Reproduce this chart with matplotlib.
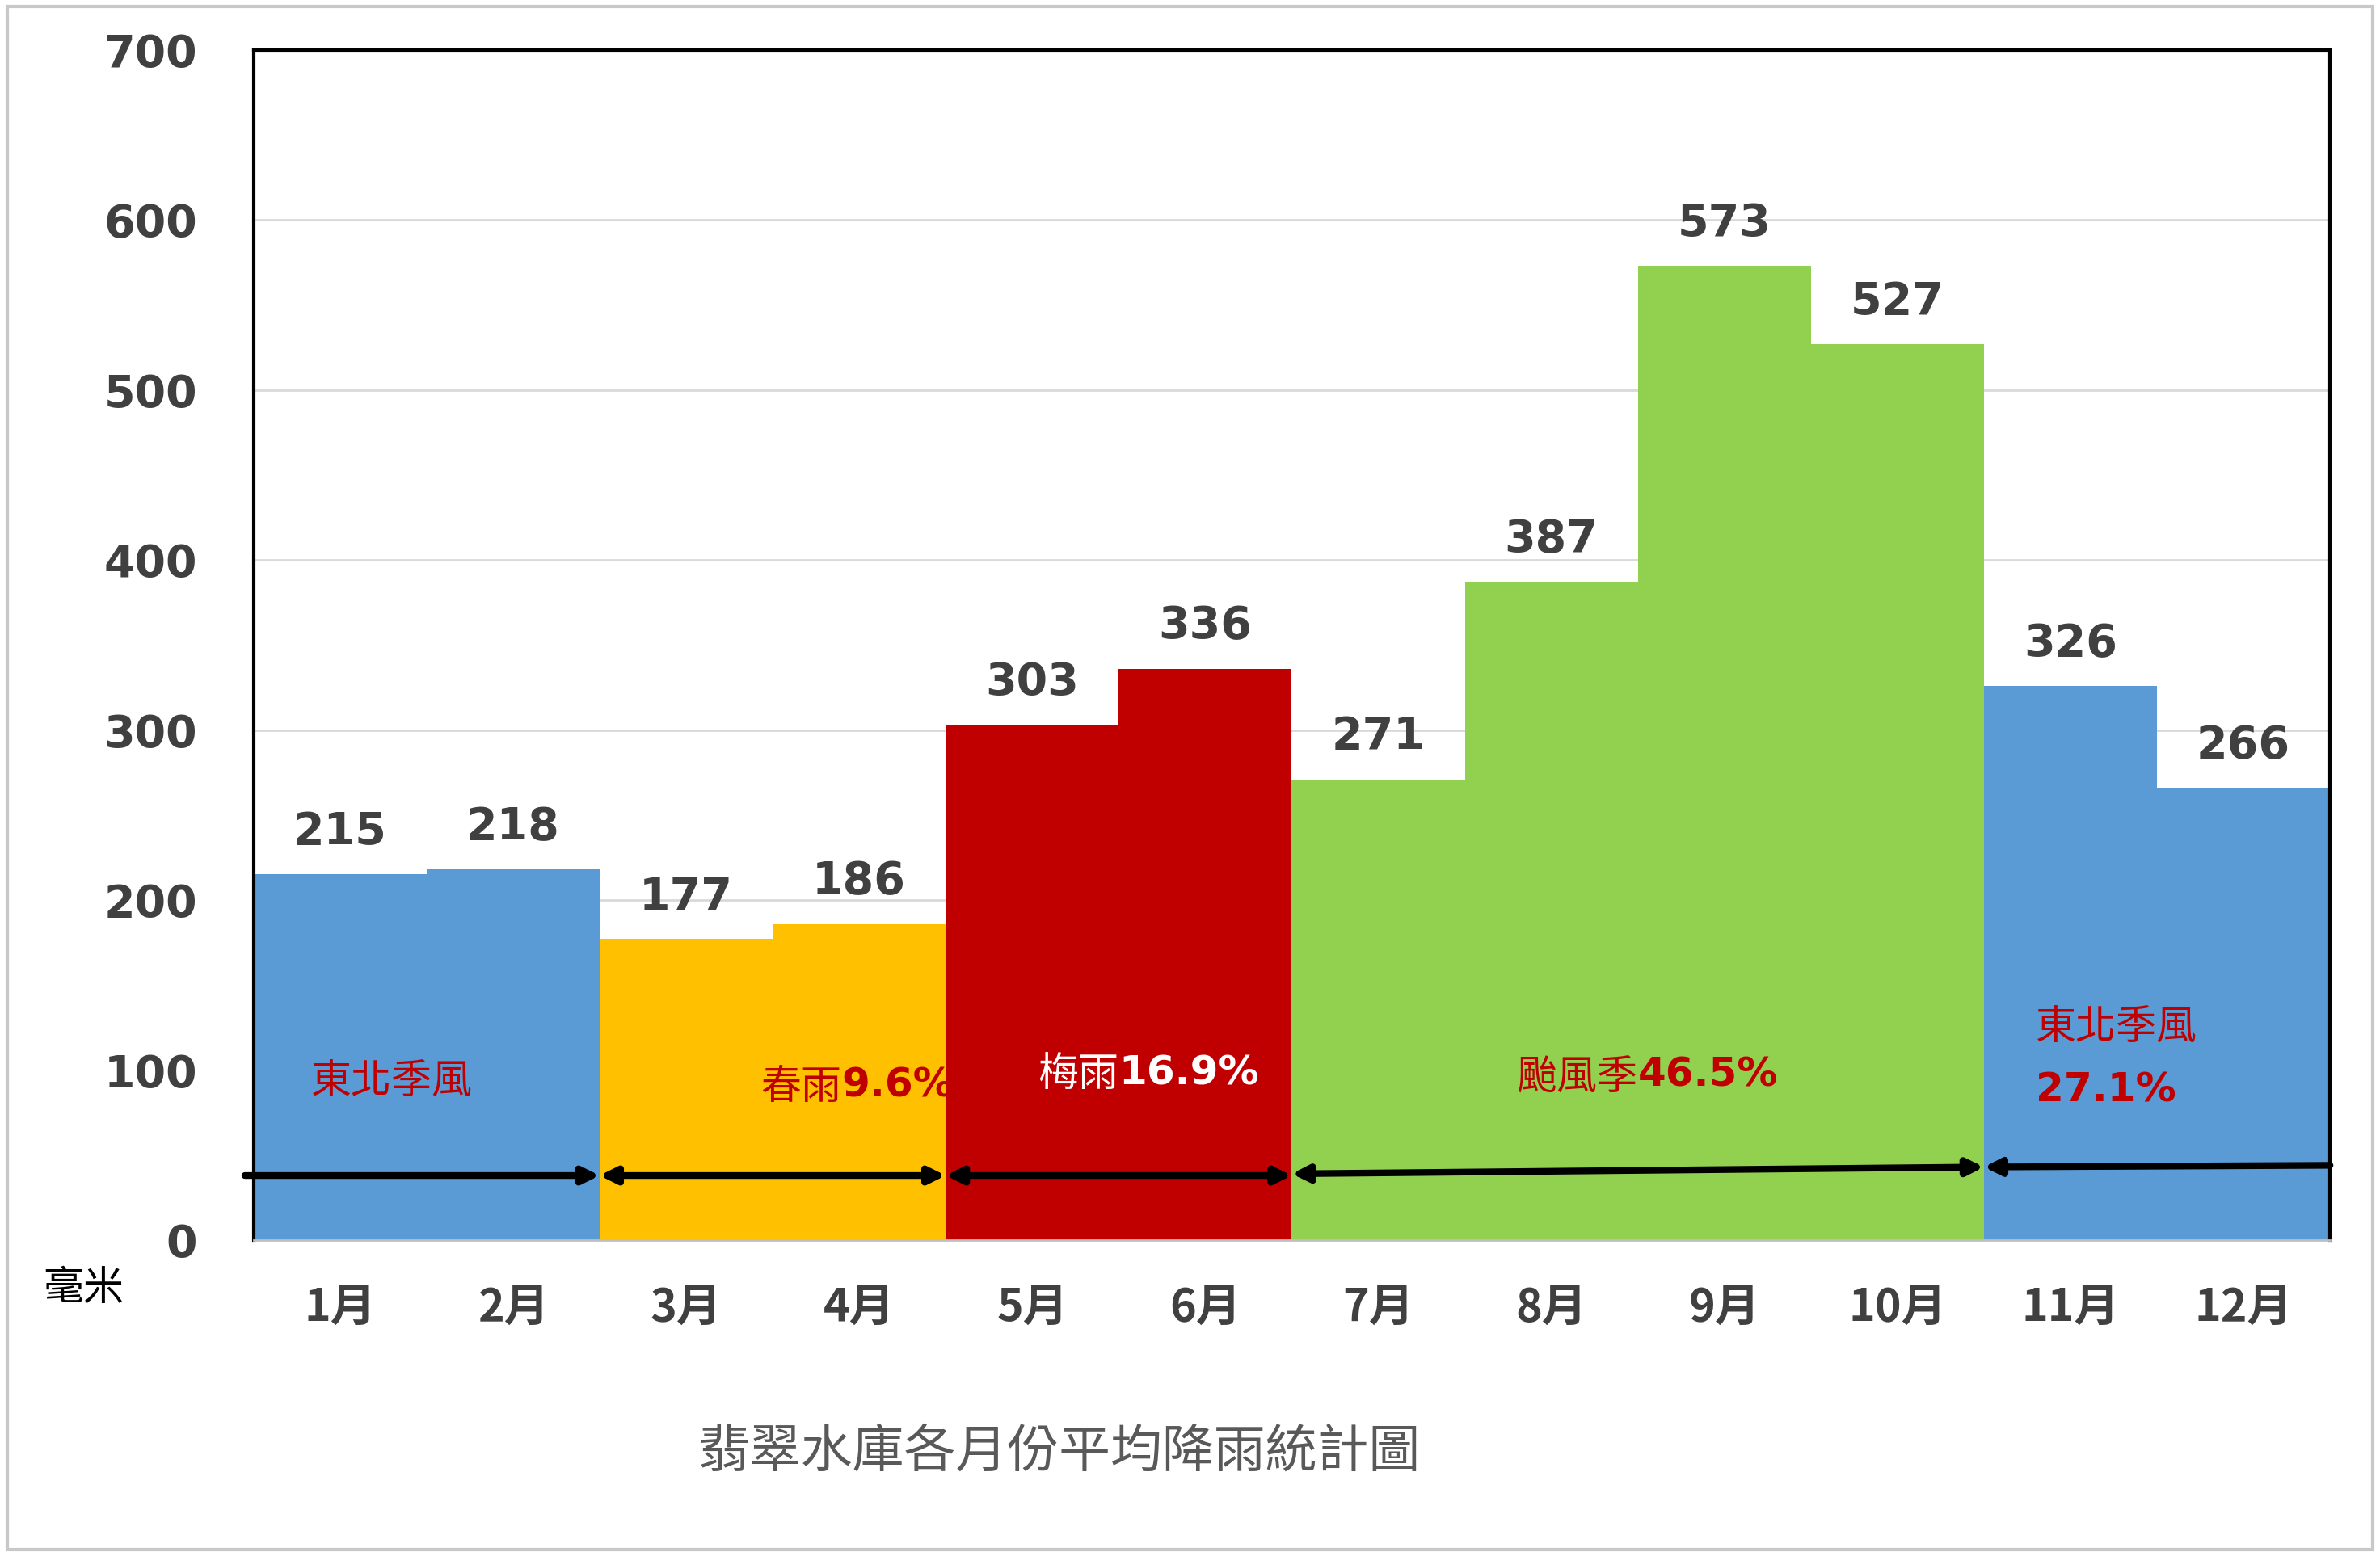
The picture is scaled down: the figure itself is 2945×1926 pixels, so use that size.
import matplotlib.pyplot as plt
from matplotlib.patches import Rectangle

months = ['1月', '2月', '3月', '4月', '5月', '6月', '7月', '8月', '9月', '10月', '11月', '12月']
rain = [215, 218, 177, 186, 303, 336, 271, 387, 573, 527, 326, 266]
season = ['ne', 'ne', 'spring', 'spring', 'plum', 'plum', 'typhoon', 'typhoon', 'typhoon', 'typhoon', 'ne', 'ne']
season_colors = {'ne': '#5B9BD5', 'spring': '#FFC000', 'plum': '#C00000', 'typhoon': '#92D050'}

cjk = 'Noto Sans CJK TC'
gray = '#404040'

fig = plt.figure(figsize=(29.45, 19.26), dpi=100)
ax = fig.add_axes([0.1065, 0.203, 0.8725, 0.765])
fig.patches.append(Rectangle((0.003, 0.004), 0.994, 0.992, transform=fig.transFigure,
                             fill=False, edgecolor='#c8c8c8', linewidth=3))

x = list(range(len(months)))
ax.bar(x, rain, width=1.0, color=[season_colors[s] for s in season], zorder=2)
for xi, v in zip(x, rain):
    ax.text(xi, v + 12, str(v), ha='center', va='bottom', fontsize=40, fontweight='bold',
            color=gray, fontfamily='DejaVu Sans')

ax.set_xlim(-0.5, 11.5)
ax.set_ylim(0, 700)
ax.set_yticks(range(0, 701, 100))
ax.set_xticks(x)
ax.set_xticklabels(months, fontfamily=cjk, fontweight='bold', fontsize=40, color=gray)
ax.tick_params(axis='y', labelsize=40, labelcolor=gray, length=0, pad=50)
ax.tick_params(axis='x', length=0, pad=40)
for lab in ax.get_yticklabels():
    lab.set_fontweight('bold')
ax.grid(axis='y', color='#d9d9d9', linewidth=2, zorder=0)
for side in ['top', 'right', 'left']:
    ax.spines[side].set_color('black')
    ax.spines[side].set_linewidth(3)
ax.spines['bottom'].set_color('#bfbfbf')
ax.spines['bottom'].set_linewidth(2)

# season arrows
arrows = [(-0.55, 38, 1.5, 38, '-|>'), (1.5, 38, 3.5, 38, '<|-|>'), (3.5, 38, 5.5, 38, '<|-|>'),
          (5.5, 39, 9.5, 43, '<|-|>'), (9.5, 43, 11.5, 44, '<|-')]
for x0, y0, x1, y1, style in arrows:
    ax.annotate('', xy=(x1, y1), xytext=(x0, y0), annotation_clip=False,
                arrowprops=dict(arrowstyle=style + ',head_length=1.2,head_width=0.6',
                                color='black', lw=6, shrinkA=0, shrinkB=0), zorder=5)

red = '#C00000'
ax.text(0.3, 93, '東北季風', color=red, fontsize=36, fontfamily=cjk, ha='center', va='center')
ax.text(2.9, 90, '春雨', color=red, fontsize=36, fontfamily=cjk, ha='right', va='center')
ax.text(2.9, 91, '9.6%', color=red, fontsize=36, fontweight='bold', ha='left', va='center')
ax.text(4.5, 97, '梅雨', color='white', fontsize=36, fontfamily=cjk, ha='right', va='center')
ax.text(4.5, 98, '16.9%', color='white', fontsize=36, fontweight='bold', ha='left', va='center')
ax.text(7.5, 96, '颱風季', color=red, fontsize=36, fontfamily=cjk, ha='right', va='center')
ax.text(7.5, 97, '46.5%', color=red, fontsize=36, fontweight='bold', ha='left', va='center')
ax.text(9.8, 125, '東北季風', color=red, fontsize=36, fontfamily=cjk, ha='left', va='center')
ax.text(9.8, 88, '27.1%', color=red, fontsize=36, fontweight='bold', ha='left', va='center')

fig.text(0.035, 0.172, '毫米', fontsize=36, fontfamily=cjk, color='black', ha='center', va='center')
fig.text(0.445, 0.067, '翡翠水庫各月份平均降雨統計圖', fontsize=46, fontfamily=cjk,
         color='#595959', ha='center', va='center')

fig.savefig('out.png', dpi=100)
